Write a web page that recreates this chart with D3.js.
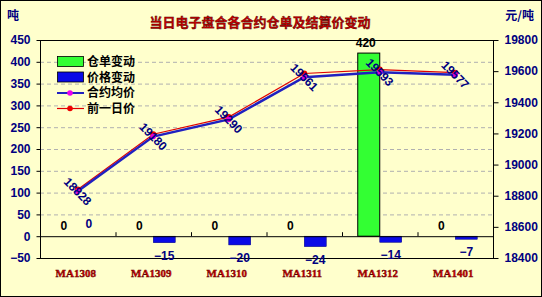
<!DOCTYPE html>
<html>
<head>
<meta charset="utf-8">
<script src="https://cdn.jsdelivr.net/npm/d3@7/dist/d3.min.js"></script>
<style>
  body { margin: 0; background: #fff; }
  svg text { font-family: "Liberation Sans", Arial, sans-serif; }
</style>
</head>
<body>
<div id="chart"></div>
<script>
const categories = ["MA1308", "MA1309", "MA1310", "MA1311", "MA1312", "MA1401"];
const stockChange = [0, 0, 0, 0, 420, 0];
const priceChange = [0, -15, -20, -24, -14, -7];
const avgPrice = [18828, 19180, 19290, 19561, 19593, 19577];
const prevPrice = [18840, 19195, 19305, 19585, 19610, 19590];
const leftTicks = [-50, 0, 50, 100, 150, 200, 250, 300, 350, 400, 450];
const rightTicks = [18400, 18600, 18800, 19000, 19200, 19400, 19600, 19800];
const legendNames = ["仓单变动", "价格变动", "合约均价", "前一日价"];

const width = 542, height = 297;
const plot = {left: 40, right: 493, top: 40, bottom: 258};

const svg = d3.select("#chart").append("svg")
  .attr("width", width)
  .attr("height", height);

svg.append("rect")
  .attr("x", 0.5).attr("y", 0.5)
  .attr("width", width - 1).attr("height", height - 1)
  .attr("fill", "#ffffcc")
  .attr("stroke", "#000");

const x = d3.scaleBand()
  .domain(categories)
  .range([plot.left, plot.right]);
const x1 = d3.scaleBand()
  .domain(["stock", "price"])
  .range([0, x.bandwidth()])
  .paddingOuter(0.716);
const yL = d3.scaleLinear().domain([-50, 450]).range([plot.bottom, plot.top]);
const yR = d3.scaleLinear().domain([18400, 19800]).range([plot.bottom, plot.top]);

// gridlines
svg.append("g")
  .selectAll("line")
  .data(leftTicks.filter(d => d !== 0 && d !== 450 && d !== -50))
  .enter().append("line")
    .attr("x1", plot.left).attr("x2", plot.right)
    .attr("y1", d => yL(d) + 0.5).attr("y2", d => yL(d) + 0.5)
    .attr("stroke", "#b0b0b0")
    .attr("stroke-dasharray", "4,3");

// plot border
svg.append("rect")
  .attr("x", plot.left + 0.5).attr("y", plot.top + 0.5)
  .attr("width", plot.right - plot.left).attr("height", plot.bottom - plot.top)
  .attr("fill", "none")
  .attr("stroke", "#000");

// bars
svg.append("g")
  .selectAll("rect")
  .data(stockChange)
  .enter().append("rect")
    .attr("x", (d, i) => x(categories[i]) + x1("stock"))
    .attr("y", d => yL(Math.max(0, d)))
    .attr("width", x1.bandwidth())
    .attr("height", d => Math.abs(yL(d) - yL(0)))
    .attr("fill", "#33ff33")
    .attr("stroke", "#000")
    .attr("stroke-width", 1);

svg.append("g")
  .selectAll("rect")
  .data(priceChange)
  .enter().append("rect")
    .attr("x", (d, i) => x(categories[i]) + x1("price"))
    .attr("y", d => yL(Math.max(0, d)))
    .attr("width", x1.bandwidth())
    .attr("height", d => Math.abs(yL(d) - yL(0)))
    .attr("fill", "#0a0ae6")
    .attr("stroke", "#000080")
    .attr("stroke-width", 0.5);

// zero line
svg.append("line")
  .attr("x1", plot.left).attr("x2", plot.right)
  .attr("y1", yL(0) + 0.5).attr("y2", yL(0) + 0.5)
  .attr("stroke", "#000");

// category ticks on zero line
svg.append("g")
  .selectAll("line")
  .data(categories.slice(1))
  .enter().append("line")
    .attr("x1", d => x(d) + 0.5).attr("x2", d => x(d) + 0.5)
    .attr("y1", yL(0)).attr("y2", yL(0) - 4)
    .attr("stroke", "#000");

// left axis
const left = svg.append("g")
  .attr("transform", "translate(" + (plot.left + 0.5) + ",0)")
  .call(d3.axisLeft(yL).tickValues(leftTicks).tickSize(4).tickPadding(6));
left.select(".domain").remove();
left.selectAll("line").attr("stroke", "#000");
left.selectAll("text")
  .attr("fill", "#000080")
  .style("font-size", "12px")
  .style("font-weight", "bold")
  .text(d => d < 0 ? "\u2212" + Math.abs(d) : d);

// right axis
const right = svg.append("g")
  .attr("transform", "translate(" + (plot.right + 0.5) + ",0)")
  .call(d3.axisRight(yR).tickValues(rightTicks).tickSize(5).tickPadding(6).tickFormat(d3.format("d")));
right.select(".domain").remove();
right.selectAll("line").attr("stroke", "#000");
right.selectAll("text")
  .attr("fill", "#000080")
  .style("font-size", "12px")
  .style("font-weight", "bold");

// category labels
svg.append("g")
  .selectAll("text")
  .data(categories)
  .enter().append("text")
    .attr("x", d => x(d) + x.bandwidth() / 2 - 2)
    .attr("y", 277)
    .attr("text-anchor", "middle")
    .attr("fill", "#dd0000")
    .attr("stroke", "#550000")
    .attr("stroke-width", 0.4)
    .style("font-size", "11px")
    .style("font-weight", "bold")
    .style("font-family", "'Liberation Serif', serif")
    .text(d => d);

// lines
const cx = i => x(categories[i]) + x.bandwidth() / 2;
const lineR = d3.line().x((d, i) => cx(i)).y(d => yR(d));

svg.append("path")
  .datum(prevPrice)
  .attr("d", lineR)
  .attr("fill", "none")
  .attr("stroke", "#e00000")
  .attr("stroke-width", 1.2);
svg.append("path")
  .datum(avgPrice)
  .attr("d", lineR)
  .attr("fill", "none")
  .attr("stroke", "#2020c0")
  .attr("stroke-width", 2.5);

svg.append("g")
  .selectAll("circle")
  .data(prevPrice)
  .enter().append("circle")
    .attr("cx", (d, i) => cx(i))
    .attr("cy", d => yR(d))
    .attr("r", 3)
    .attr("fill", "#ee0000");
svg.append("g")
  .selectAll("circle")
  .data(avgPrice)
  .enter().append("circle")
    .attr("cx", (d, i) => cx(i))
    .attr("cy", d => yR(d))
    .attr("r", 2.8)
    .attr("fill", "#dd00dd");

// price labels, rotated
svg.append("g")
  .selectAll("text")
  .data(avgPrice)
  .enter().append("text")
    .attr("transform", (d, i) => "translate(" + cx(i) + "," + yR(d) + ")rotate(45)")
    .attr("text-anchor", "middle")
    .attr("dy", "0.35em")
    .attr("fill", "#000080")
    .style("font-size", "12px")
    .style("font-weight", "bold")
    .text(d => d);

// bar value labels
svg.append("g")
  .selectAll("text")
  .data(stockChange)
  .enter().append("text")
    .attr("x", (d, i) => x(categories[i]) + x1("stock") + x1.bandwidth() / 2 - 3)
    .attr("y", d => yL(d) - 6)
    .attr("text-anchor", "middle")
    .attr("fill", "#000")
    .style("font-size", "12px")
    .style("font-weight", "bold")
    .text(d => d);

svg.append("g")
  .selectAll("text")
  .data(priceChange)
  .enter().append("text")
    .attr("x", (d, i) => x(categories[i]) + x1("price") + x1.bandwidth() / 2)
    .attr("y", d => d < 0 ? yL(d) + 17 : yL(d) - 8)
    .attr("text-anchor", "middle")
    .attr("fill", "#000080")
    .style("font-size", "12px")
    .style("font-weight", "bold")
    .text(d => d < 0 ? "\u2212" + Math.abs(d) : d);

// legend
const legend = svg.append("g");
legendNames.forEach((name, i) => {
  const ly = 62 + i * 15.5;
  if (i < 2) {
    legend.append("rect")
      .attr("x", 57.5).attr("y", ly - 5.5)
      .attr("width", 26).attr("height", 10)
      .attr("fill", i === 0 ? "#33ff33" : "#0a0ae6")
      .attr("stroke", "#000")
      .attr("stroke-width", 0.8);
  } else {
    legend.append("line")
      .attr("x1", 57).attr("x2", 84)
      .attr("y1", ly).attr("y2", ly)
      .attr("stroke", i === 2 ? "#2020c0" : "#e00000")
      .attr("stroke-width", i === 2 ? 2 : 1.2);
    legend.append("circle")
      .attr("cx", 70).attr("cy", ly)
      .attr("r", 2.8)
      .attr("fill", i === 2 ? "#ee00ee" : "#ee0000");
  }
  legend.append("text")
    .attr("x", 87).attr("y", ly)
    .attr("dy", "0.35em")
    .attr("fill", "#000")
    .style("font-size", "12px")
    .style("font-weight", "bold")
    .style("font-family", "'Noto Sans CJK SC', sans-serif")
    .text(name);
});

// title and units
svg.append("text")
  .attr("x", 260).attr("y", 27)
  .attr("text-anchor", "middle")
  .attr("fill", "#cc0000")
  .attr("stroke", "#440000")
  .attr("stroke-width", 0.4)
  .style("font-size", "13px")
  .style("font-weight", "bold")
  .style("font-family", "'Noto Sans CJK SC', sans-serif")
  .text("当日电子盘合各合约仓单及结算价变动");

svg.append("text")
  .attr("x", 7).attr("y", 20)
  .attr("fill", "#000080")
  .style("font-size", "12px")
  .style("font-weight", "bold")
  .style("font-family", "'Noto Sans CJK SC', sans-serif")
  .text("吨");

svg.append("text")
  .attr("x", 534).attr("y", 20)
  .attr("text-anchor", "end")
  .attr("fill", "#000080")
  .style("font-size", "12px")
  .style("font-weight", "bold")
  .style("font-family", "'Noto Sans CJK SC', sans-serif")
  .text("元/吨");
</script>
</body>
</html>
